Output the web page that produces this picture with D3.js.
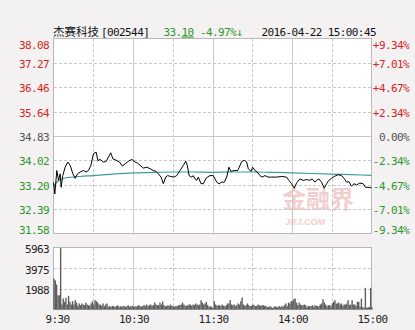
<!DOCTYPE html>
<html lang="zh">
<head>
<meta charset="UTF-8">
<title>杰赛科技 分时图</title>
<script src="https://d3js.org/d3.v7.min.js"></script>
<style>
    body { margin: 0; background: #f3f1f1; }
    svg { display: block; }
    .num { font-family: "DejaVu Sans Mono", monospace; font-size: 11px; letter-spacing: -0.6px; }
    .grid { stroke: #c8c8c8; stroke-width: 1; shape-rendering: crispEdges; }
    .grid.dash { stroke-dasharray: 3,2; }
</style>
</head>
<body>
<svg width="415" height="330"></svg>
<script>
// 价格轴刻度
const priceTicks = [38.08, 37.27, 36.46, 35.64, 34.83, 34.02, 33.20, 32.39, 31.58];
const pctTicks = ["+9.34%", "+7.01%", "+4.67%", "+2.34%", "0.00%", "-2.34%", "-4.67%", "-7.01%", "-9.34%"];
const volTicks = [5963, 3975, 1988];
const timeLabels = ["9:30", "10:30", "11:30", "14:00", "15:00"];
const timeLabelMin = [0, 60, 120, 180, 240];
const prevClose = 34.83;

// 分时价格 (分钟, 价格)
const priceMin = [0, 1, 2.5, 3.8, 5, 5.8, 7, 8.8, 10.8, 12.6, 14.6, 16.4, 18.1, 20.1, 22.6, 24.6, 26.4, 28.2,
    30.2, 32.2, 33.5, 35.2, 37.7, 39.7, 41.5, 43.2, 44.8, 47.8, 49.8, 52, 54, 56.6, 59.1, 61.6, 63.3, 65.4,
    67.8, 70.4, 72.9, 75.4, 77.4, 79.1, 81.2, 82.9, 84.7, 86.2, 88.5, 91, 93, 95.5, 98, 99.8, 101, 102.3,
    104.3, 105.5, 106.8, 108.1, 109.3, 111.3, 113.1, 114.9, 116.1, 118.1, 120.6, 123.2, 124.9, 126.9, 128.9,
    130.7, 132.4, 133.9, 136.4, 139, 140.2, 142, 144, 145.8, 147, 149, 150.3, 152, 153.8, 155.8, 157.5, 159.6,
    162, 164.6, 168.4, 172.2, 175.9, 177.7, 179.7, 181.7, 183.5, 186, 188.4, 191, 193.5, 195.2, 197.3, 198.5,
    200.3, 202.3, 204.3, 206.1, 207.8, 209.8, 212.3, 214.8, 217.4, 219.3, 221.2, 222.9, 224.9, 226.9, 228.7,
    231.2, 233.7, 235.5, 237.4, 240];
const priceVal = [33.28, 32.90, 33.68, 33.35, 33.57, 33.12, 33.51, 33.79, 33.96, 33.85, 33.57, 33.42, 33.57, 33.63,
    33.68, 33.63, 33.68, 33.85, 34.24, 34.29, 34.01, 34.05, 33.96, 33.98, 34.13, 34.27, 34.07, 34.01, 33.96, 33.83,
    33.90, 33.99, 34.05, 33.96, 33.93, 33.85, 33.76, 33.79, 33.74, 33.68, 33.65, 33.57, 33.46, 33.24, 33.46, 33.51,
    33.48, 33.46, 33.51, 33.68, 33.85, 33.99, 33.85, 33.51, 33.46, 33.51, 33.40, 33.35, 33.46, 33.24, 33.24, 33.40,
    33.46, 33.51, 33.51, 33.29, 33.24, 33.29, 33.29, 33.46, 33.79, 33.65, 33.68, 33.68, 33.79, 33.98, 34.02, 33.96,
    33.74, 33.65, 33.79, 33.68, 33.63, 33.51, 33.46, 33.51, 33.46, 33.46, 33.46, 33.48, 33.46, 33.35, 33.24, 33.09,
    33.27, 33.40, 33.35, 33.38, 33.35, 33.40, 33.29, 33.35, 33.40, 33.29, 33.09, 33.24, 33.35, 33.42, 33.49, 33.54,
    33.51, 33.42, 33.29, 33.31, 33.16, 33.24, 33.20, 33.26, 33.24, 33.12, 33.12, 33.10];

// 均价线
const avgMin = [0, 4, 10, 20, 30, 45, 60, 75, 90, 105, 120, 135, 150, 165, 180, 195, 210, 225, 240];
const avgVal = [33.15, 33.35, 33.44, 33.48, 33.51, 33.56, 33.60, 33.62, 33.63, 33.63, 33.62, 33.63, 33.63, 33.62,
    33.60, 33.58, 33.56, 33.54, 33.52];

// 每分钟成交量 (手)
const volumes = [
    2980, 2800, 2400, 1350, 1380, 5900, 480, 1060, 740, 1120,
    480, 1310, 740, 480, 800, 480, 900, 670, 350, 580,
    420, 580, 480, 420, 670, 480, 420, 350, 580, 800,
    480, 900, 800, 670, 480, 480, 350, 580, 320, 480,
    580, 260, 320, 260, 350, 320, 260, 320, 420, 260,
    320, 260, 350, 320, 260, 320, 420, 260, 320, 350,
    260, 320, 260, 350, 420, 320, 260, 350, 420, 320,
    480, 320, 420, 480, 350, 420, 670, 480, 420, 420,
    670, 480, 770, 420, 320, 320, 420, 320, 480, 350,
    320, 260, 350, 320, 420, 420, 480, 670, 480, 350,
    350, 420, 480, 480, 350, 480, 420, 580, 480, 420,
    480, 900, 670, 480, 580, 740, 420, 260, 320, 260,
    160, 800, 480, 350, 420, 420, 320, 480, 350, 320,
    420, 580, 580, 900, 480, 420, 480, 320, 420, 580,
    480, 800, 1150, 480, 350, 420, 580, 420, 320, 350,
    480, 420, 320, 350, 480, 420, 320, 420, 420, 350,
    320, 230, 260, 320, 230, 160, 260, 320, 230, 260,
    320, 230, 350, 260, 420, 580, 320, 670, 580, 800,
    800, 990, 1060, 670, 420, 670, 480, 420, 420, 480,
    420, 230, 350, 320, 320, 420, 260, 420, 350, 320,
    320, 480, 580, 990, 670, 480, 320, 420, 420, 320,
    580, 740, 900, 580, 580, 670, 480, 580, 350, 480,
    480, 580, 900, 420, 480, 900, 480, 480, 350, 740,
    740, 260, 1060, 230, 160, 2085, 160, 230, 230, 2085,
    200
];

const left = 53.5, right = 371.5;
const pTop = 38.5, pBottom = 233.5;
const vTop = 247.5, vBottom = 309.5;
const red = "#d42626", green = "#2f962f", grey = "#555";

const svg = d3.select("svg");

const x = d3.scaleLinear().domain([0, 240]).range([left, right]);
const y = d3.scaleLinear().domain([31.58, 38.08]).range([pBottom, pTop]);
const yv = d3.scaleLinear().domain([0, 5963]).range([vBottom, vTop]);

// 面板底色
svg.append("rect").attr("x", left).attr("y", pTop).attr("width", right - left).attr("height", pBottom - pTop).attr("fill", "#fff");
svg.append("rect").attr("x", left).attr("y", vTop).attr("width", right - left).attr("height", vBottom - vTop).attr("fill", "#fff");

// 水印
const wm = svg.append("g").attr("fill", "#f1cfcf");
wm.append("text").attr("x", 282).attr("y", 208).attr("font-family", "Noto Sans CJK SC")
    .attr("font-weight", "bold").attr("font-size", 24).text("金融界");
wm.append("text").attr("x", 285).attr("y", 225).attr("font-family", "Liberation Sans")
    .attr("font-weight", "bold").attr("font-style", "italic").attr("font-size", 9).text("JRJ.COM");

// 竖线
const vMins = [30, 60, 90, 120, 150, 180, 210];
[[pTop, pBottom], [vTop, vBottom]].forEach(([t, b]) => {
    svg.append("g").selectAll("line").data(vMins).join("line")
        .attr("class", d => d % 60 === 0 ? "grid" : "grid dash")
        .attr("x1", d => Math.round(x(d)) + 0.5).attr("x2", d => Math.round(x(d)) + 0.5)
        .attr("y1", t).attr("y2", b);
});

// 横线
svg.append("g").selectAll("line").data(priceTicks.slice(1, -1)).join("line")
    .attr("class", d => d === prevClose ? "grid" : "grid dash")
    .attr("x1", left).attr("x2", right)
    .attr("y1", d => Math.round(y(d)) + 0.5).attr("y2", d => Math.round(y(d)) + 0.5);
svg.append("g").selectAll("line").data(volTicks.slice(1)).join("line")
    .attr("class", "grid dash")
    .attr("x1", left).attr("x2", right)
    .attr("y1", d => Math.round(yv(d)) + 0.5).attr("y2", d => Math.round(yv(d)) + 0.5);

// 边框
svg.append("rect").attr("x", left).attr("y", pTop).attr("width", right - left).attr("height", pBottom - pTop)
    .attr("fill", "none").attr("stroke", "#b8b8b8");
svg.append("rect").attr("x", left).attr("y", vTop).attr("width", right - left).attr("height", vBottom - vTop)
    .attr("fill", "none").attr("stroke", "#b8b8b8");

// 成交量柱
svg.append("g").selectAll("rect").data(volumes).join("rect")
    .attr("x", (d, i) => x(i) - 0.2)
    .attr("width", 1.4)
    .attr("y", d => yv(d))
    .attr("height", d => vBottom - yv(d))
    .attr("fill", "#5e5e5e");

// 均价线
svg.append("path")
    .datum(avgMin.map((m, i) => [m, avgVal[i]]))
    .attr("fill", "none").attr("stroke", "#3f9b9b").attr("stroke-width", 1.2)
    .attr("d", d3.line().x(d => x(d[0])).y(d => y(d[1])).curve(d3.curveMonotoneX));

// 价格线
svg.append("path")
    .datum(priceMin.map((m, i) => [m, priceVal[i]]))
    .attr("fill", "none").attr("stroke", "#000").attr("stroke-width", 1)
    .attr("d", d3.line().x(d => x(d[0])).y(d => y(d[1])));

// 左右轴标签
const labelColor = p => p > prevClose ? red : (p < prevClose ? green : grey);
const clampP = v => Math.min(Math.max(v, pTop + 6.5), pBottom - 4);
svg.append("g").selectAll("text").data(priceTicks).join("text")
    .attr("class", "num").attr("text-anchor", "end")
    .attr("x", 49).attr("y", d => clampP(y(d) + 1) + 4)
    .attr("fill", labelColor).text(d => d.toFixed(2));
svg.append("g").selectAll("text").data(pctTicks).join("text")
    .attr("class", "num").attr("text-anchor", "end")
    .attr("x", 409).attr("y", (d, i) => clampP(y(priceTicks[i]) + 1) + 4)
    .attr("fill", (d, i) => labelColor(priceTicks[i])).text(d => d);
svg.append("g").selectAll("text").data(volTicks).join("text")
    .attr("class", "num").attr("text-anchor", "end")
    .attr("x", 49).attr("y", d => yv(d) + 1.5 + 4)
    .attr("fill", "#222").text(d => d);

// 时间标签
svg.append("g").selectAll("text").data(timeLabels).join("text")
    .attr("class", "num").attr("text-anchor", "middle")
    .attr("x", (d, i) => x(timeLabelMin[i]) + (i === 0 ? 4 : 1))
    .attr("y", 323).attr("fill", "#222").text(d => d);

// 标题行
const head = svg.append("g");
head.append("text").attr("x", 53).attr("y", 35.5)
    .attr("font-family", "Noto Sans CJK SC").attr("font-size", 11.5).attr("fill", "#111").text("杰赛科技");
head.append("text").attr("class", "num").attr("x", 101).attr("y", 35.5).attr("fill", "#111").text("[002544]");
const last = head.append("text").attr("class", "num").attr("x", 163.5).attr("y", 35.5).attr("fill", green);
last.append("tspan").text("33.");
last.append("tspan").attr("text-decoration", "underline").text("10");
head.append("text").attr("class", "num").attr("x", 200).attr("y", 35.5).attr("fill", green).text("-4.97%↓");
head.append("text").attr("class", "num").attr("x", 261.5).attr("y", 35.5).attr("fill", "#111").text("2016-04-22 15:00:45");
</script>
</body>
</html>
